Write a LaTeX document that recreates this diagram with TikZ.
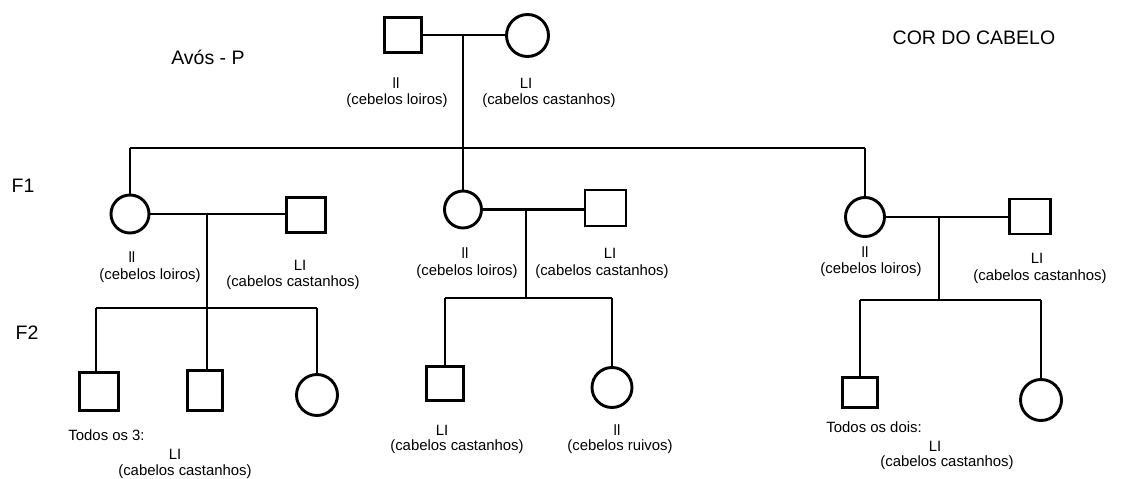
\documentclass[tikz,border=0pt]{standalone}
\usepackage{fontspec}
\setmainfont{Liberation Sans}
\begin{document}
\begin{tikzpicture}[x=1pt,y=-1pt,
  line width=2.9pt,
  sq/.style 2 args={draw, rectangle, inner sep=0pt, minimum width=#1, minimum height=#2},
  ci/.style={draw, circle, inner sep=0pt, minimum size=#1},
  lab/.style={inner sep=0pt, font=\fontsize{14.9}{16}\selectfont},
  big/.style={inner sep=0pt, font=\fontsize{19.5}{22}\selectfont},
  ln/.style={line width=2.9pt}
]
\useasboundingbox (0,0) rectangle (1122,479);

% ---------- P ----------
\node[sq={37pt}{35pt}] (gp) at (403,35) {};
\node[ci=42pt] (gm) at (527.5,35.5) {};
\coordinate (m0) at (463,35);
\coordinate (s0) at (463,148);
\draw[ln] (gp.east) -- (gp.east -| gm.west);
\draw[ln] (m0) -- (s0);

% ---------- F1 ----------
\node[ci=38pt] (f1a) at (130,214) {};
\node[sq={39pt}{35pt}] (h1a) at (306,215) {};
\node[ci=37pt] (f1b) at (463,209.5) {};
\node[sq={41pt}{36pt}] (h1b) at (605.5,208) {};
\node[ci=39pt] (f1c) at (865,217) {};
\node[sq={41pt}{35pt}] (h1c) at (1030,216.5) {};

\coordinate (sbL) at (130,148);
\coordinate (sbR) at (865,148);
\draw[ln] (sbL) -- (sbR);
\draw[ln] (sbL) -- (sbL |- f1a.north);
\draw[ln] (s0) -- (s0 |- f1b.north);
\draw[ln] (sbR) -- (sbR |- f1c.north);

\draw[ln] (f1a.east) -- (f1a.east -| h1a.west);
\draw[ln] (f1b.east) -- (f1b.east -| h1b.west);
\draw[ln] (f1c.east) -- (f1c.east -| h1c.west);

\coordinate (m1) at (207,214);
\coordinate (m2) at (526,209.5);
\coordinate (m3) at (939,217);
\coordinate (b1) at (207,308);
\coordinate (b2) at (526,298);
\coordinate (b3) at (939,300);
\draw[ln] (m1) -- (b1);
\draw[ln] (m2) -- (b2);
\draw[ln] (m3) -- (b3);

% ---------- F2 ----------
\node[sq={39pt}{38pt}] (f2a1) at (99,391.5) {};
\node[sq={35pt}{40pt}] (f2a2) at (205,390.5) {};
\node[ci=41pt] (f2a3) at (317,395) {};
\node[sq={37pt}{34pt}] (f2b1) at (445,383.5) {};
\node[ci=40pt] (f2b2) at (612,387.5) {};
\node[sq={35pt}{30pt}] (f2c1) at (860,392.5) {};
\node[ci=41pt] (f2c2) at (1041,400) {};

\coordinate (ca1) at (96,308);
\coordinate (ca3) at (317,308);
\draw[ln] (ca1) -- (ca3);
\draw[ln] (ca1) -- (ca1 |- f2a1.north);
\draw[ln] (b1) -- (b1 |- f2a2.north);
\draw[ln] (ca3) -- (ca3 |- f2a3.north);

\coordinate (cb1) at (445,298);
\coordinate (cb2) at (612,298);
\draw[ln] (cb1) -- (cb2);
\draw[ln] (cb1) -- (cb1 |- f2b1.north);
\draw[ln] (cb2) -- (cb2 |- f2b2.north);

\coordinate (cc1) at (860,300);
\coordinate (cc2) at (1041,300);
\draw[ln] (cc1) -- (cc2);
\draw[ln] (cc1) -- (cc1 |- f2c1.north);
\draw[ln] (cc2) -- (cc2 |- f2c2.north);

% ---------- titles ----------
\node[big] (tP) at (208,57) {Avós - P};
\node[big] (tF1) at (23,186) {F1};
\node[big] (tF2) at (27,333) {F2};
\node[big] (tC) at (974,38) {COR DO CABELO};

% ---------- labels ----------
\node[lab] (g1) at (396,83) {ll};
\node[lab] (p1) at (397,101) {(cebelos loiros)};
\node[lab] (g2) at (526,83) {LI};
\node[lab] (p2) at (549,101) {(cabelos castanhos)};

\node[lab] (g3) at (132,257) {ll};
\node[lab] (p3) at (150,276) {(cebelos loiros)};
\node[lab] (g4) at (300,265) {LI};
\node[lab] (p4) at (293,283) {(cabelos castanhos)};

\node[lab] (g5) at (465,253) {ll};
\node[lab] (p5) at (467,272) {(cebelos loiros)};
\node[lab] (g6) at (610,253) {LI};
\node[lab] (p6) at (602,272) {(cabelos castanhos)};

\node[lab] (g7) at (865,252) {ll};
\node[lab] (p7) at (871,270) {(cebelos loiros)};
\node[lab] (g8) at (1037,258) {LI};
\node[lab] (p8) at (1040,277) {(cabelos castanhos)};

\node[lab, anchor=west] (t3) at (67,435) {Todos os 3:};
\node[lab] (g9) at (175,454) {LI};
\node[lab] (p9) at (185,472) {(cabelos castanhos)};

\node[lab] (g10) at (442,430) {LI};
\node[lab] (p10) at (457,447) {(cabelos castanhos)};
\node[lab] (g11) at (617,430) {ll};
\node[lab] (p11) at (620,447) {(cebelos ruivos)};

\node[lab, anchor=west] (t2) at (825,427) {Todos os dois:};
\node[lab] (g12) at (935,446) {LI};
\node[lab] (p12) at (947,463) {(cabelos castanhos)};
\end{tikzpicture}
\end{document}
